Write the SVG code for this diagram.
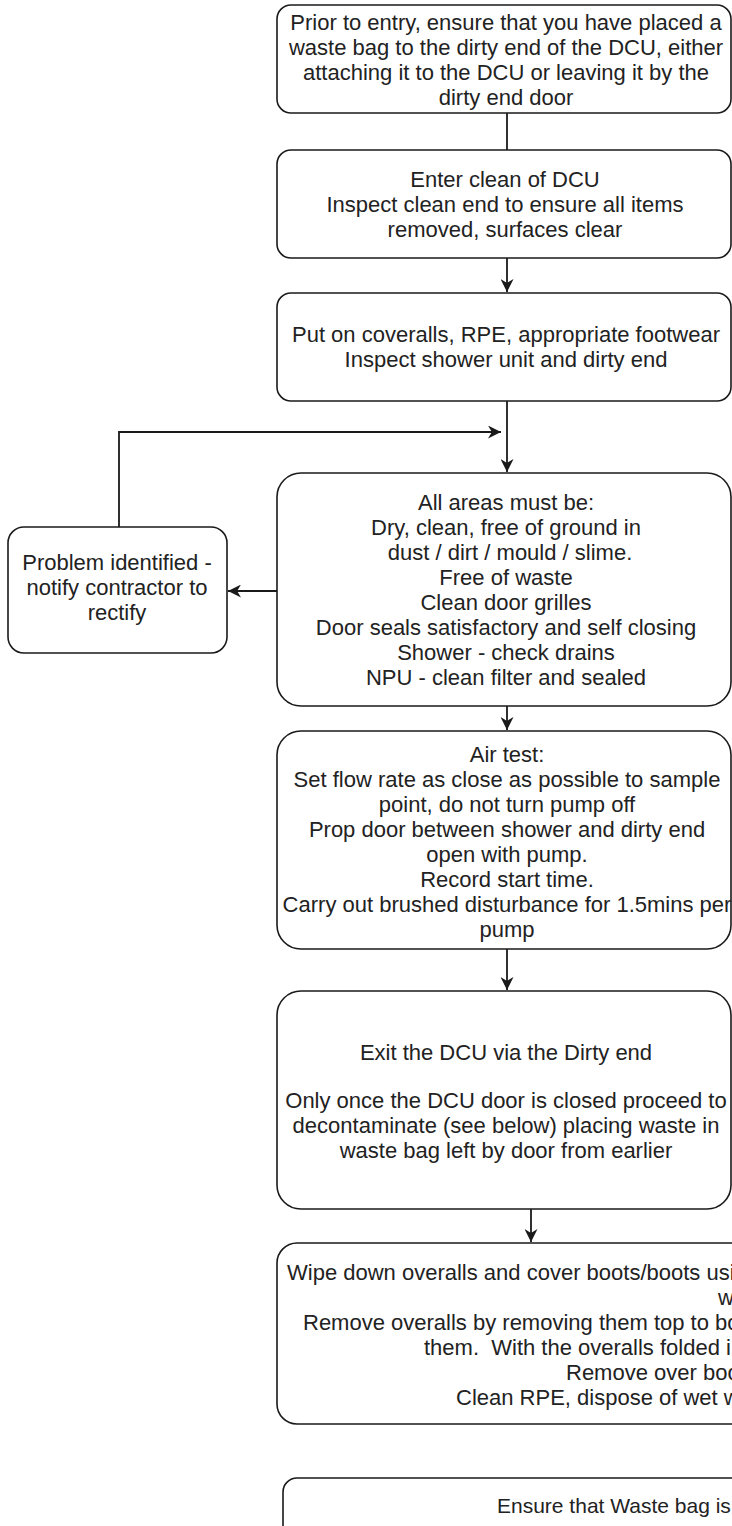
<svg xmlns="http://www.w3.org/2000/svg" width="732" height="1526" viewBox="0 0 732 1526">
<style>
.box{fill:#fff;stroke:#1a1a1a;stroke-width:1.6}
.t{font-family:"Liberation Sans",Arial,sans-serif;font-size:22px;fill:#222;text-anchor:middle}
.ts{font-family:"Liberation Sans",Arial,sans-serif;font-size:22px;fill:#222}
.c{fill:none;stroke:#1a1a1a;stroke-width:1.8}
</style>
<defs>
<marker id="arr" viewBox="0 0 10 10" refX="10" refY="5" markerWidth="13" markerHeight="13" markerUnits="userSpaceOnUse" orient="auto">
<path d="M0,0 L10,5 L0,10 L3,5 Z" fill="#1a1a1a"/>
</marker>
</defs>
<rect width="732" height="1526" fill="#fff"/>
<g id="connectors">
<line class="c" x1="507" y1="113" x2="507" y2="150"/>
<line class="c" x1="507" y1="258" x2="507" y2="292" marker-end="url(#arr)"/>
<line class="c" x1="507" y1="401" x2="507" y2="472" marker-end="url(#arr)"/>
<polyline class="c" points="119,527 119,432 501,432" marker-end="url(#arr)"/>
<line class="c" x1="277" y1="591" x2="228" y2="591" marker-end="url(#arr)"/>
<line class="c" x1="507" y1="706" x2="507" y2="730" marker-end="url(#arr)"/>
<line class="c" x1="507" y1="949" x2="507" y2="990" marker-end="url(#arr)"/>
<line class="c" x1="531" y1="1209" x2="531" y2="1242" marker-end="url(#arr)"/>
</g>
<g id="n1">
<rect class="box" x="277" y="5" width="454" height="108" rx="14"/>
<text class="t" x="506" y="30">Prior to entry, ensure that you have placed a</text>
<text class="t" x="506" y="55">waste bag to the dirty end of the DCU, either</text>
<text class="t" x="506" y="80">attaching it to the DCU or leaving it by the</text>
<text class="t" x="506" y="105">dirty end door</text>
</g>
<g id="n2">
<rect class="box" x="277" y="150" width="454" height="108" rx="14"/>
<text class="t" x="505" y="187">Enter clean of DCU</text>
<text class="t" x="505" y="212">Inspect clean end to ensure all items</text>
<text class="t" x="505" y="237">removed, surfaces clear</text>
</g>
<g id="n3">
<rect class="box" x="277" y="293" width="454" height="108" rx="14"/>
<text class="t" x="506" y="342">Put on coveralls, RPE, appropriate footwear</text>
<text class="t" x="506" y="367">Inspect shower unit and dirty end</text>
</g>
<g id="n4">
<rect class="box" x="277" y="473" width="454" height="233" rx="24"/>
<text class="t" x="506" y="510">All areas must be:</text>
<text class="t" x="506" y="535">Dry, clean, free of ground in</text>
<text class="t" x="510" y="560">dust / dirt / mould / slime.</text>
<text class="t" x="506" y="585">Free of waste</text>
<text class="t" x="506" y="610">Clean door grilles</text>
<text class="t" x="506" y="635">Door seals satisfactory and self closing</text>
<text class="t" x="506" y="660">Shower - check drains</text>
<text class="t" x="506" y="685">NPU - clean filter and sealed</text>
</g>
<g id="n5">
<rect class="box" x="277" y="731" width="454" height="218" rx="24"/>
<text class="t" x="507" y="762">Air test:</text>
<text class="t" x="507" y="787">Set flow rate as close as possible to sample</text>
<text class="t" x="507" y="812">point, do not turn pump off</text>
<text class="t" x="507" y="837">Prop door between shower and dirty end</text>
<text class="t" x="507" y="862">open with pump.</text>
<text class="t" x="507" y="887">Record start time.</text>
<text class="t" x="507" y="912">Carry out brushed disturbance for 1.5mins per</text>
<text class="t" x="507" y="937">pump</text>
</g>
<g id="n6">
<rect class="box" x="277" y="991" width="454" height="218" rx="24"/>
<text class="t" x="506" y="1060">Exit the DCU via the Dirty end</text>
<text class="t" x="506" y="1108">Only once the DCU door is closed proceed to</text>
<text class="t" x="506" y="1133">decontaminate (see below) placing waste in</text>
<text class="t" x="506" y="1158">waste bag left by door from earlier</text>
</g>
<g id="n7">
<rect class="box" x="277" y="1243" width="508" height="181" rx="20"/>
<text class="ts" x="287" y="1280">Wipe down overalls and cover boots/boots usi</text>
<text class="ts" x="718" y="1305">w</text>
<text class="ts" x="303" y="1330">Remove overalls by removing them top to bo</text>
<text class="ts" x="424" y="1355">them.&#160; With the overalls folded i</text>
<text class="ts" x="566" y="1380">Remove over boo</text>
<text class="ts" x="456" y="1405">Clean RPE, dispose of wet w</text>
</g>
<g id="n8">
<rect class="box" x="283" y="1478" width="500" height="100" rx="14"/>
<text class="ts" x="497" y="1513" style="font-size:21px">Ensure that Waste bag is</text>
</g>
<g id="n9">
<rect class="box" x="8" y="527" width="219" height="126" rx="16"/>
<text class="t" x="117" y="570">Problem identified -</text>
<text class="t" x="117" y="595">notify contractor to</text>
<text class="t" x="117" y="620">rectify</text>
</g>
</svg>
